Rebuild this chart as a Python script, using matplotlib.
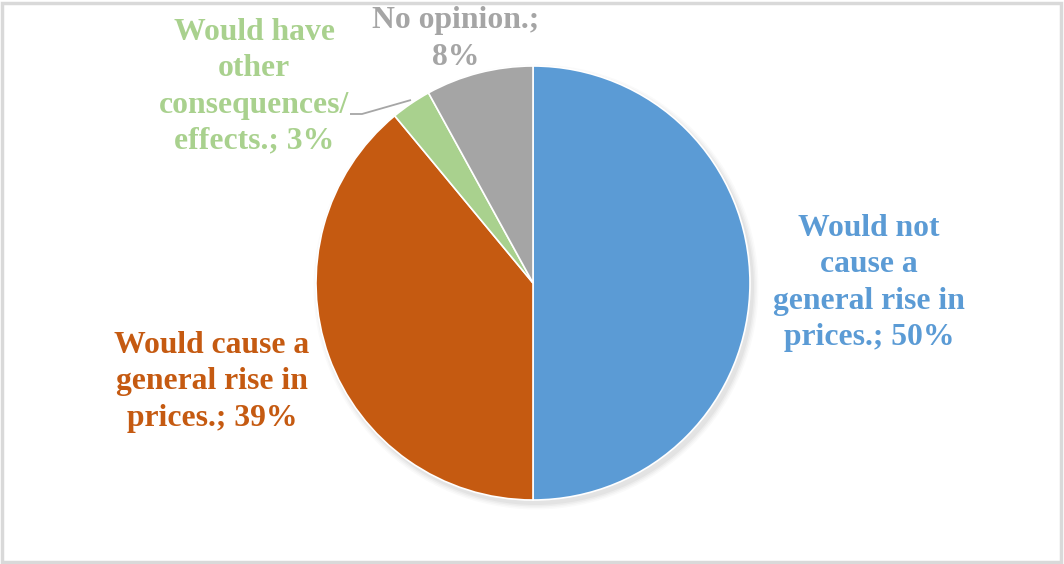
import matplotlib.pyplot as plt
from matplotlib.patches import Rectangle, Circle

# Survey shares, drawn clockwise from 12 o'clock
categories = [
    "Would not\ncause a\ngeneral rise in\nprices.",
    "Would cause a\ngeneral rise in\nprices.",
    "Would have\nother\nconsequences/\neffects.",
    "No opinion.",
]
shares = [50, 39, 3, 8]
colors = ["#5B9BD5", "#C55A11", "#A9D18E", "#A5A5A5"]

W, H = 1064, 564
fig = plt.figure(figsize=(W / 100, H / 100), dpi=100)
ax = fig.add_axes([0, 0, 1, 1])

cx, cy, r = 533, H - 283, 217

wedges, _ = ax.pie(shares, colors=colors, startangle=90, counterclock=False,
                   center=(cx, cy), radius=r, frame=True,
                   wedgeprops=dict(edgecolor="white", linewidth=1.2))
for w in wedges:
    w.set_zorder(2)

ax.set_xlim(0, W)
ax.set_ylim(0, H)
ax.set_aspect("equal")
ax.axis("off")

# soft drop shadow under the pie
for i, a in enumerate([0.035, 0.03, 0.025, 0.02]):
    ax.add_patch(Circle((cx + 3, cy - 4), r + 1 + i * 1.5, color="black",
                        alpha=a, lw=0, zorder=0))

font = dict(family="Liberation Serif", fontweight="bold", fontsize=22.8,
            ha="center", va="center", linespacing=1.33)

label_pos = [(869, H - 283), (212, H - 382), (254, H - 87), (456, H - 39)]
for name, val, col, (x, y) in zip(categories, shares, colors, label_pos):
    if name == "No opinion.":
        txt = f"{name};\n{val}%"
    else:
        lines = name.split("\n")
        lines[-1] = f"{lines[-1]}; {val}%"
        txt = "\n".join(lines)
    ax.text(x, y, txt, color=col, zorder=5, **font)

# leader line for the small slice
ax.plot([350, 362, 411], [H - 114, H - 114, H - 100], color="#A6A6A6",
        lw=1.3, zorder=4, solid_capstyle="butt")

# outer frame
fig.patches.append(Rectangle((0.002, 0.003), 0.995, 0.992, transform=fig.transFigure,
                             fill=False, edgecolor="#D9D9D9", linewidth=2.5))

fig.savefig("out.png", dpi=100, facecolor="white")
